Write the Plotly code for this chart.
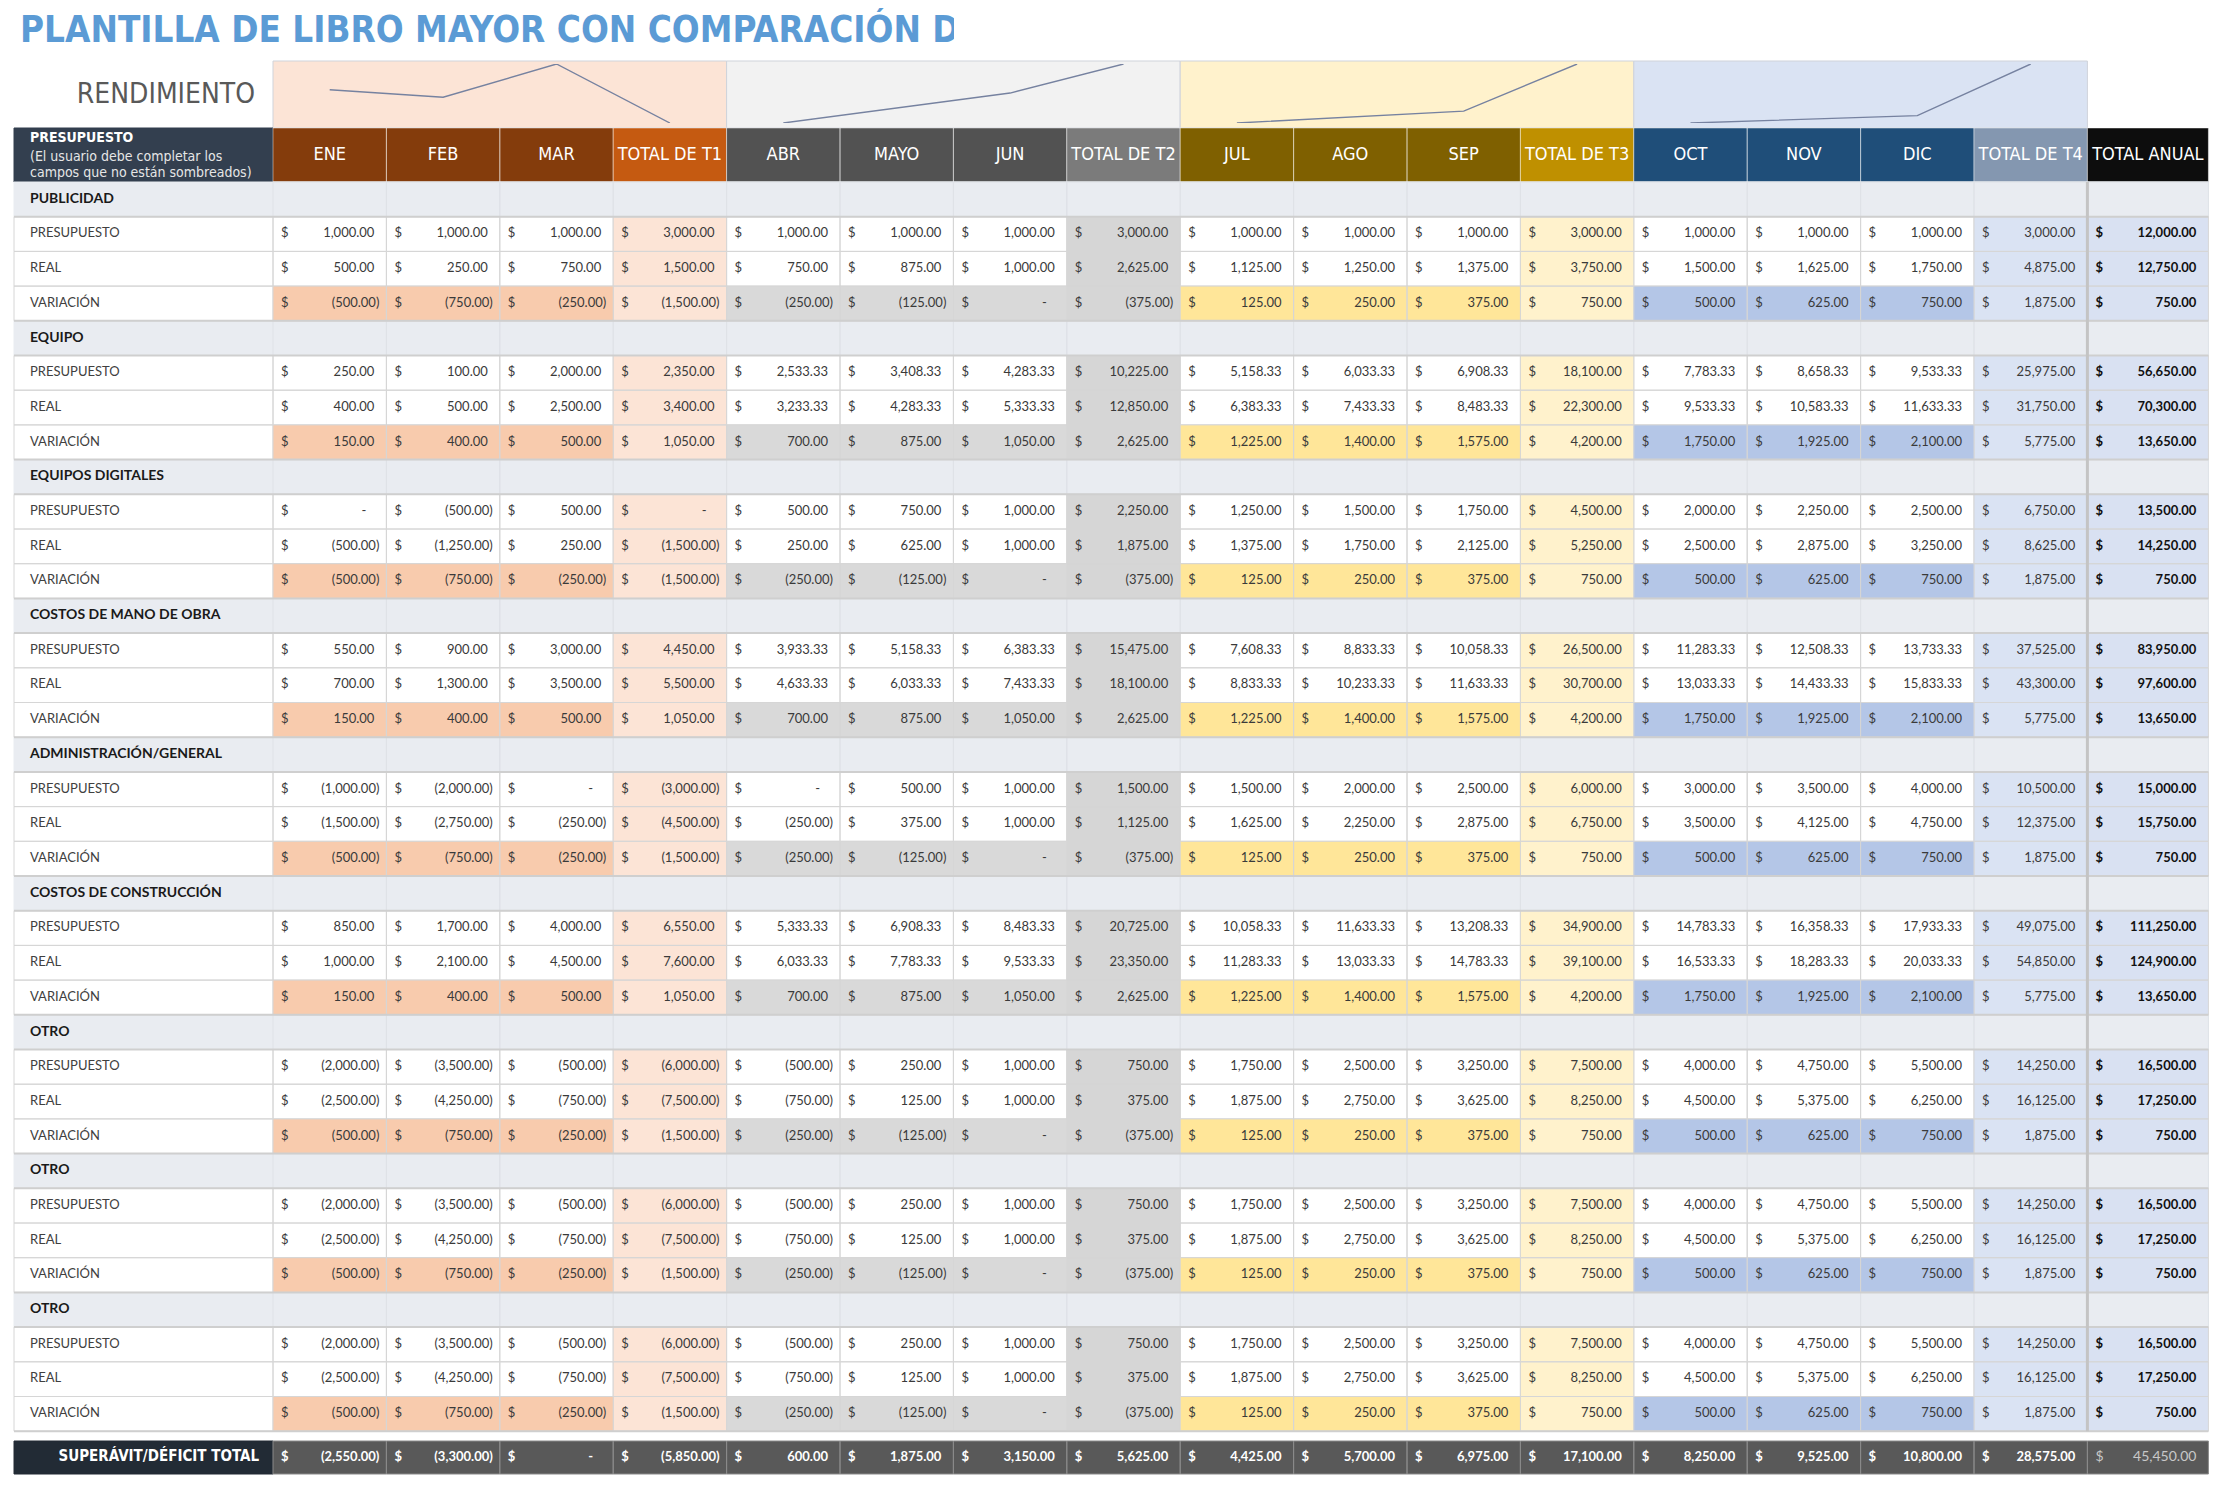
"""Libro mayor con comparación de presupuesto: tabla dibujada con Plotly."""

from collections import defaultdict

import plotly.graph_objects as go

W, H = 2222, 1486
OFF = 8  # the page body margin shifts the figure by this many pixels
NARROW = "Liberation Sans Narrow, DejaVu Sans Condensed, Arial Narrow, sans-serif"
BODY = "Lato, Noto Sans, sans-serif"

TITLE = "PLANTILLA DE LIBRO MAYOR CON COMPARACIÓN DE PRESUPUESTO"
HEADER_LABEL = "PRESUPUESTO"
HEADER_NOTE = ["(El usuario debe completar los", "campos que no están sombreados)"]
COLUMNS = [
    "ENE", "FEB", "MAR", "TOTAL DE T1",
    "ABR", "MAYO", "JUN", "TOTAL DE T2",
    "JUL", "AGO", "SEP", "TOTAL DE T3",
    "OCT", "NOV", "DIC", "TOTAL DE T4",
    "TOTAL ANUAL",
]
ROW_LABELS = ["PRESUPUESTO", "REAL", "VARIACIÓN"]
TOTAL_LABEL = "SUPERÁVIT/DÉFICIT TOTAL"

PUBLICIDAD = [
    [1000, 1000, 1000, 3000, 1000, 1000, 1000, 3000, 1000, 1000, 1000, 3000, 1000, 1000, 1000, 3000, 12000],
    [500, 250, 750, 1500, 750, 875, 1000, 2625, 1125, 1250, 1375, 3750, 1500, 1625, 1750, 4875, 12750],
    [-500, -750, -250, -1500, -250, -125, 0, -375, 125, 250, 375, 750, 500, 625, 750, 1875, 750],
]
EQUIPO = [
    [250, 100, 2000, 2350, 2533.33, 3408.33, 4283.33, 10225, 5158.33, 6033.33, 6908.33, 18100,
     7783.33, 8658.33, 9533.33, 25975, 56650],
    [400, 500, 2500, 3400, 3233.33, 4283.33, 5333.33, 12850, 6383.33, 7433.33, 8483.33, 22300,
     9533.33, 10583.33, 11633.33, 31750, 70300],
    [150, 400, 500, 1050, 700, 875, 1050, 2625, 1225, 1400, 1575, 4200, 1750, 1925, 2100, 5775, 13650],
]
EQUIPOS_DIGITALES = [
    [0, -500, 500, 0, 500, 750, 1000, 2250, 1250, 1500, 1750, 4500, 2000, 2250, 2500, 6750, 13500],
    [-500, -1250, 250, -1500, 250, 625, 1000, 1875, 1375, 1750, 2125, 5250, 2500, 2875, 3250, 8625, 14250],
    [-500, -750, -250, -1500, -250, -125, 0, -375, 125, 250, 375, 750, 500, 625, 750, 1875, 750],
]
MANO_DE_OBRA = [
    [550, 900, 3000, 4450, 3933.33, 5158.33, 6383.33, 15475, 7608.33, 8833.33, 10058.33, 26500,
     11283.33, 12508.33, 13733.33, 37525, 83950],
    [700, 1300, 3500, 5500, 4633.33, 6033.33, 7433.33, 18100, 8833.33, 10233.33, 11633.33, 30700,
     13033.33, 14433.33, 15833.33, 43300, 97600],
    [150, 400, 500, 1050, 700, 875, 1050, 2625, 1225, 1400, 1575, 4200, 1750, 1925, 2100, 5775, 13650],
]
ADMINISTRACION = [
    [-1000, -2000, 0, -3000, 0, 500, 1000, 1500, 1500, 2000, 2500, 6000, 3000, 3500, 4000, 10500, 15000],
    [-1500, -2750, -250, -4500, -250, 375, 1000, 1125, 1625, 2250, 2875, 6750, 3500, 4125, 4750, 12375, 15750],
    [-500, -750, -250, -1500, -250, -125, 0, -375, 125, 250, 375, 750, 500, 625, 750, 1875, 750],
]
CONSTRUCCION = [
    [850, 1700, 4000, 6550, 5333.33, 6908.33, 8483.33, 20725, 10058.33, 11633.33, 13208.33, 34900,
     14783.33, 16358.33, 17933.33, 49075, 111250],
    [1000, 2100, 4500, 7600, 6033.33, 7783.33, 9533.33, 23350, 11283.33, 13033.33, 14783.33, 39100,
     16533.33, 18283.33, 20033.33, 54850, 124900],
    [150, 400, 500, 1050, 700, 875, 1050, 2625, 1225, 1400, 1575, 4200, 1750, 1925, 2100, 5775, 13650],
]
OTRO = [
    [-2000, -3500, -500, -6000, -500, 250, 1000, 750, 1750, 2500, 3250, 7500, 4000, 4750, 5500, 14250, 16500],
    [-2500, -4250, -750, -7500, -750, 125, 1000, 375, 1875, 2750, 3625, 8250, 4500, 5375, 6250, 16125, 17250],
    [-500, -750, -250, -1500, -250, -125, 0, -375, 125, 250, 375, 750, 500, 625, 750, 1875, 750],
]
TOTAL = [-2550, -3300, 0, -5850, 600, 1875, 3150, 5625, 4425, 5700, 6975, 17100,
         8250, 9525, 10800, 28575, 45450]

SECTIONS = [
    ("PUBLICIDAD", PUBLICIDAD),
    ("EQUIPO", EQUIPO),
    ("EQUIPOS DIGITALES", EQUIPOS_DIGITALES),
    ("COSTOS DE MANO DE OBRA", MANO_DE_OBRA),
    ("ADMINISTRACIÓN/GENERAL", ADMINISTRACION),
    ("COSTOS DE CONSTRUCCIÓN", CONSTRUCCION),
    ("OTRO", OTRO),
    ("OTRO", OTRO),
    ("OTRO", OTRO),
]

# quarter styles: month header, total header, variance fill, total fill, band fill
QUARTER_STYLE = [
    ("#843c0c", "#c55a11", "#f8cbad", "#fce4d6", "#fce4d6"),
    ("#525252", "#7b7b7b", "#d9d9d9", "#d6d6d6", "#f2f2f2"),
    ("#7f6000", "#bf9000", "#ffe699", "#fff2cc", "#fff2cc"),
    ("#1f4e79", "#8497b0", "#b4c6e7", "#dae3f3", "#dae3f3"),
]
ANNUAL_HEAD = "#0d0d0d"
ANNUAL_FILL = "#d9e1f2"
SECTION_FILL = "#e9ecf1"
GRID = "#d6d6d6"

# geometry (page pixels)
LEFT, LABEL_W, COL_W, ANNUAL_W = 14, 259, 113.4, 121
BAND_TOP, HEAD_TOP, HEAD_H = 61, 128, 54
BODY_TOP, ROW_H = HEAD_TOP + HEAD_H, 34.7
TOTAL_TOP, TOTAL_H = 1441, 33


def col_left(j):
    return LEFT + LABEL_W + j * COL_W


def col_width(j):
    return ANNUAL_W if j == 16 else COL_W


RIGHT = col_left(16) + ANNUAL_W


def dom_x(px):
    return (px - OFF) / W


def dom_y(px):
    return 1 - (px - OFF) / H


def fmt(v):
    if abs(v) < 0.005:
        return "-"
    s = f"{abs(v):,.2f}"
    return f"({s})" if v < 0 else s


rects = defaultdict(list)
texts = defaultdict(lambda: ([], [], []))


def add_rect(x0, y0, x1, y1, fill, line=GRID):
    rects[(fill, line)].append((x0, y0, x1, y1))


def add_text(x, y, s, pos="middle right", color="#404040", size=13, bold=False, family=BODY):
    xs, ys, ts = texts[(pos, color, size, bold, family)]
    xs.append(x)
    ys.append(y)
    ts.append(s)


def add_money(j, yc, v, color="#3a3a3a", bold=False, size=13):
    x0 = col_left(j)
    x1 = x0 + col_width(j)
    add_text(x0 + 8, yc, "$", "middle right", color, size, bold)
    s = fmt(v)
    pad = 7 if v < 0 else (20 if s == "-" else 12)
    add_text(x1 - pad, yc, s, "middle left", color, size, bold)


# sparkline bands
for q, style in enumerate(QUARTER_STYLE):
    add_rect(col_left(4 * q), BAND_TOP, col_left(4 * q + 4), HEAD_TOP, style[4], "#cfd3da")

# header row
add_rect(LEFT, HEAD_TOP, LEFT + LABEL_W, BODY_TOP, "#333f4f", "#333f4f")
for j, name in enumerate(COLUMNS):
    if j == 16:
        fill = ANNUAL_HEAD
    else:
        q, p = divmod(j, 4)
        fill = QUARTER_STYLE[q][1] if p == 3 else QUARTER_STYLE[q][0]
    add_rect(col_left(j), HEAD_TOP, col_left(j) + col_width(j), BODY_TOP, fill, "rgba(255,255,255,0.45)")
    add_text(col_left(j) + col_width(j) / 2, HEAD_TOP + HEAD_H / 2, name, "middle center",
             "white", 18, False, NARROW)
add_text(LEFT + 16, HEAD_TOP + 10, HEADER_LABEL, "middle right", "white", 14, True, NARROW)
add_text(LEFT + 16, HEAD_TOP + 29, HEADER_NOTE[0], "middle right", "#e6e6e6", 14, False, NARROW)
add_text(LEFT + 16, HEAD_TOP + 45, HEADER_NOTE[1], "middle right", "#e6e6e6", 14, False, NARROW)
add_text(LEFT + LABEL_W - 18, (BAND_TOP + HEAD_TOP) / 2 + 1, "RENDIMIENTO", "middle left",
         "#595959", 28, False, NARROW)

# body rows
row = 0
sep_rows = []
for name, rows in SECTIONS:
    y0 = BODY_TOP + row * ROW_H
    add_rect(LEFT, y0, RIGHT, y0 + ROW_H, SECTION_FILL, SECTION_FILL)
    for j in range(17):
        add_rect(col_left(j), y0, col_left(j) + col_width(j), y0 + ROW_H, SECTION_FILL, "#dfe2e7")
    add_text(LEFT + 16, y0 + ROW_H / 2, name, "middle right", "#1a1a1a", 14, True)
    row += 1
    sep_rows.append(BODY_TOP + row * ROW_H)
    for r, values in enumerate(rows):
        y0 = BODY_TOP + row * ROW_H
        yc = y0 + ROW_H / 2
        add_rect(LEFT, y0, LEFT + LABEL_W, y0 + ROW_H, "white")
        add_text(LEFT + 16, yc, ROW_LABELS[r], "middle right", "#404040", 13)
        for j, v in enumerate(values):
            if j == 16:
                fill = ANNUAL_FILL
            else:
                q, p = divmod(j, 4)
                if p == 3:
                    fill = QUARTER_STYLE[q][3]
                elif r == 2:
                    fill = QUARTER_STYLE[q][2]
                else:
                    fill = "white"
            add_rect(col_left(j), y0, col_left(j) + col_width(j), y0 + ROW_H, fill)
            if j == 16:
                add_money(j, yc, v, "#111111", True, 13)
            else:
                add_money(j, yc, v)
        row += 1
    sep_rows.append(BODY_TOP + row * ROW_H)
BODY_BOTTOM = BODY_TOP + row * ROW_H

# total row
add_rect(LEFT, TOTAL_TOP, LEFT + LABEL_W, TOTAL_TOP + TOTAL_H, "#222b35", "#222b35")
add_text(LEFT + LABEL_W - 14, TOTAL_TOP + TOTAL_H / 2, TOTAL_LABEL, "middle left", "white", 15, True, NARROW)
for j, v in enumerate(TOTAL):
    add_rect(col_left(j), TOTAL_TOP, col_left(j) + col_width(j), TOTAL_TOP + TOTAL_H, "#595959", "#8a8a8a")
    if j == 16:
        add_money(j, TOTAL_TOP + TOTAL_H / 2, v, "#c8c8c8", False, 14)
    else:
        add_money(j, TOTAL_TOP + TOTAL_H / 2, v, "white", True, 13)

fig = go.Figure()
for (fill, line), boxes in rects.items():
    xs, ys = [], []
    for x0, y0, x1, y1 in boxes:
        xs += [x0, x1, x1, x0, x0, None]
        ys += [y0, y0, y1, y1, y0, None]
    fig.add_trace(go.Scatter(x=xs, y=ys, mode="lines", fill="toself", fillcolor=fill,
                             line=dict(color=line, width=1), hoverinfo="skip"))

# heavier separators and annual divider
hx, hy = [], []
for y in sep_rows:
    hx += [LEFT, RIGHT, None]
    hy += [y, y, None]
fig.add_trace(go.Scatter(x=hx, y=hy, mode="lines", line=dict(color="#cfcfcf", width=2), hoverinfo="skip"))
fig.add_trace(go.Scatter(x=[col_left(16), col_left(16)], y=[BODY_TOP, BODY_BOTTOM], mode="lines",
                         line=dict(color="#c4c4c4", width=3), hoverinfo="skip"))

for (pos, color, size, bold, family), (xs, ys, ts) in texts.items():
    fig.add_trace(go.Scatter(
        x=xs, y=ys, text=ts, mode="text", textposition=pos, hoverinfo="skip",
        textfont=dict(color=color, size=size, family=family, weight="bold" if bold else "normal"),
    ))

# sparklines: one small subplot per quarter, fed by the total row
axes = dict(
    xaxis=dict(range=[OFF, W + OFF], domain=[0, 1], visible=False, fixedrange=True),
    yaxis=dict(range=[H + OFF, OFF], domain=[0, 1], visible=False, fixedrange=True),
)
for q in range(4):
    n = q + 2
    vals = TOTAL[4 * q:4 * q + 4]
    fig.add_trace(go.Scatter(x=[0, 1, 2, 3], y=vals, mode="lines", xaxis=f"x{n}", yaxis=f"y{n}",
                             line=dict(color="#7682a0", width=1.4), hoverinfo="skip"))
    lo, hi = min(vals), max(vals)
    axes[f"xaxis{n}"] = dict(domain=[dom_x(col_left(4 * q)), dom_x(col_left(4 * q + 4))], range=[-0.5, 3.5],
                             visible=False, anchor=f"y{n}", fixedrange=True)
    axes[f"yaxis{n}"] = dict(domain=[dom_y(123), dom_y(64)], range=[lo, hi], visible=False,
                             anchor=f"x{n}", fixedrange=True)

# title, clipped like the sheet cell
fig.add_trace(go.Scatter(x=[0], y=[0.5], text=[TITLE], mode="text", textposition="middle right",
                         xaxis="x6", yaxis="y6", cliponaxis=True, hoverinfo="skip",
                         textfont=dict(color="#5b9bd5", size=36.5, family=NARROW, weight="bold")))
axes["xaxis6"] = dict(domain=[dom_x(14), dom_x(954)], range=[-6, 934], visible=False, anchor="y6", fixedrange=True)
axes["yaxis6"] = dict(domain=[dom_y(58), 1], range=[0, 1], visible=False, anchor="x6", fixedrange=True)

fig.update_layout(
    width=W,
    height=H,
    margin=dict(l=0, r=0, t=0, b=0),
    showlegend=False,
    paper_bgcolor="white",
    plot_bgcolor="rgba(0,0,0,0)",
    **axes,
)
fig.write_html("out.html")
